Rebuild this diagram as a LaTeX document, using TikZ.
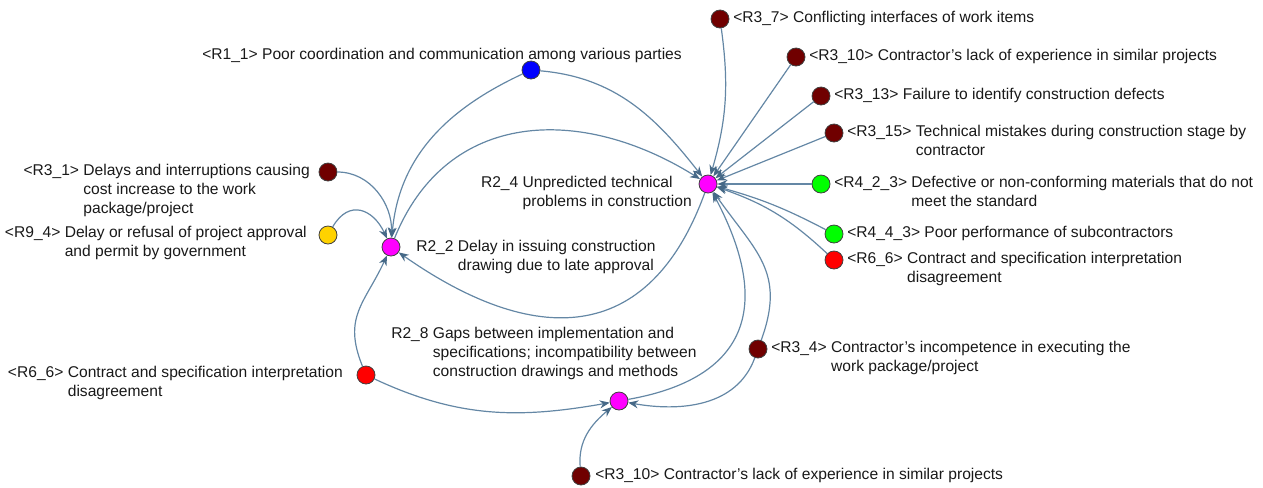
\documentclass[tikz,border=0pt]{standalone}
\usepackage{fontspec}
\setmainfont{Liberation Sans}
\usetikzlibrary{arrows.meta}

\definecolor{rone}{RGB}{0,0,255}
\definecolor{rtwo}{RGB}{255,0,255}
\definecolor{rthree}{RGB}{112,0,0}
\definecolor{rfour}{RGB}{0,255,0}
\definecolor{rsix}{RGB}{255,0,0}
\definecolor{rnine}{RGB}{255,210,0}
\definecolor{linkc}{RGB}{100,135,165}
\definecolor{tipc}{RGB}{70,105,135}

% tag in front, the text lines hang after it
\newcommand{\risk}[2]{\begin{tabular}[t]{@{}l@{\ }l@{}}#1 & #2\end{tabular}}

\begin{document}
\begin{tikzpicture}[x=0.75pt,y=0.75pt,
	dot/.style={circle,draw=black!75,line width=0.6pt,minimum size=13.5pt,inner sep=0pt},
	txt/.style={inner sep=0pt,text=black!90,font=\fontsize{11.7}{14.25}\selectfont},
	link/.style={draw=linkc,line width=0.9pt,-{Stealth[length=7.5pt,width=6pt,color=tipc]}}]
		\useasboundingbox (0,0) rectangle (1263,-487);

		% risk factors
		\node[dot,fill=rthree] (r37) at (720,-19) {};
		\node[dot,fill=rthree] (r310a) at (796,-57) {};
		\node[dot,fill=rthree] (r313) at (821,-96) {};
		\node[dot,fill=rthree] (r315) at (834,-133) {};
		\node[dot,fill=rfour] (r423) at (821,-184) {};
		\node[dot,fill=rfour] (r443) at (834,-234) {};
		\node[dot,fill=rsix] (r66a) at (834,-260) {};
		\node[dot,fill=rtwo] (r24) at (708,-184) {};
		\node[dot,fill=rone] (r11) at (531,-70) {};
		\node[dot,fill=rthree] (r31) at (328,-172) {};
		\node[dot,fill=rnine] (r94) at (328,-235) {};
		\node[dot,fill=rtwo] (r22) at (391,-247) {};
		\node[dot,fill=rsix] (r66b) at (366,-375) {};
		\node[dot,fill=rtwo] (r28) at (619,-401) {};
		\node[dot,fill=rthree] (r34) at (758,-349) {};
		\node[dot,fill=rthree] (r310b) at (581,-476) {};

		% labels
		\node[txt,anchor=base west] (t37) at (733,-22) {\risk{<R3\_7>}{Conflicting interfaces of work items}};
		\node[txt,anchor=base west] (t310a) at (809,-60) {\risk{<R3\_10>}{Contractor's lack of experience in similar projects}};
		\node[txt,anchor=base west] (t313) at (834,-99) {\risk{<R3\_13>}{Failure to identify construction defects}};
		\node[txt,anchor=base west] (t315) at (847,-136) {\risk{<R3\_15>}{Technical mistakes during construction stage by\\ & contractor}};
		\node[txt,anchor=base west] (t423) at (834,-187) {\risk{<R4\_2\_3>}{Defective or non-conforming materials that do not\\ & meet the standard}};
		\node[txt,anchor=base west] (t443) at (847,-237) {\risk{<R4\_4\_3>}{Poor performance of subcontractors}};
		\node[txt,anchor=base west] (t66a) at (847,-263) {\risk{<R6\_6>}{Contract and specification interpretation\\ & disagreement}};
		\node[txt,anchor=base west] (t34) at (771,-352) {\risk{<R3\_4>}{Contractor's incompetence in executing the\\ & work package/project}};
		\node[txt,anchor=base west] (t310b) at (595,-479) {\risk{<R3\_10>}{Contractor's lack of experience in similar projects}};
		\node[txt,anchor=base west] (t11) at (202,-59) {<R1\_1> Poor coordination and communication among various parties};
		\node[txt,anchor=base west] (t22) at (416,-251.5) {\risk{R2\_2}{Delay in issuing construction\\ & drawing due to late approval}};
		\node[txt,anchor=base west] (t28) at (391,-338.5) {\risk{R2\_8}{Gaps between implementation and\\ & specifications; incompatibility between\\ & construction drawings and methods}};
		\node[txt,anchor=base east] (t24) at (692,-187) {\risk{R2\_4}{Unpredicted technical\\ & problems in construction}};
		\node[txt,anchor=base east] (t31) at (310,-175.5) {\risk{<R3\_1>}{Delays and interruptions causing\\ & cost increase to the work\\ & package/project}};
		\node[txt,anchor=base east] (t94) at (307,-237.5) {\risk{<R9\_4>}{Delay or refusal of project approval\\ & and permit by government}};
		\node[txt,anchor=base east] (t66b) at (343,-377) {\risk{<R6\_6>}{Contract and specification interpretation\\ & disagreement}};

		% links into R2_4
		\draw[link] (r37) to[bend left=12] (r24);
		\draw[link] (r310a) -- (r24);
		\draw[link] (r313) -- (r24);
		\draw[link] (r315) -- (r24);
		\draw[link] (r423) -- (r24);
		\draw[link] (r443) to[bend right=6] (r24);
		\draw[link] (r66a) to[bend right=12] (r24);
		\draw[link] (r11) to[out=-5,in=128] (r24);
		\draw[link] (r22) to[out=68,in=148,looseness=1.15] (r24);
		\draw[link] (r28) .. controls +(10:120) and +(-62:150) .. (r24);
		\draw[link] (r34) to[out=70,in=-55,looseness=1.2] (r24);
		% links into R2_2
		\draw[link] (r11) to[out=205,in=85] (r22);
		\draw[link] (r24) to[out=-110,in=-35,looseness=1.35] (r22);
		\draw[link] (r31) to[out=0,in=88] (r22);
		\draw[link] (r94) to[out=60,in=115,looseness=1.5] (r22);
		\draw[link] (r66b) to[out=112,in=-115,looseness=1.2] (r22);
		% links into R2_8
		\draw[link] (r66b) to[out=-25,in=190] (r28);
		\draw[link] (r310b) to[out=95,in=220] (r28);
		\draw[link] (r34) to[out=-110,in=-10] (r28);
		\end{tikzpicture}
\end{document}
